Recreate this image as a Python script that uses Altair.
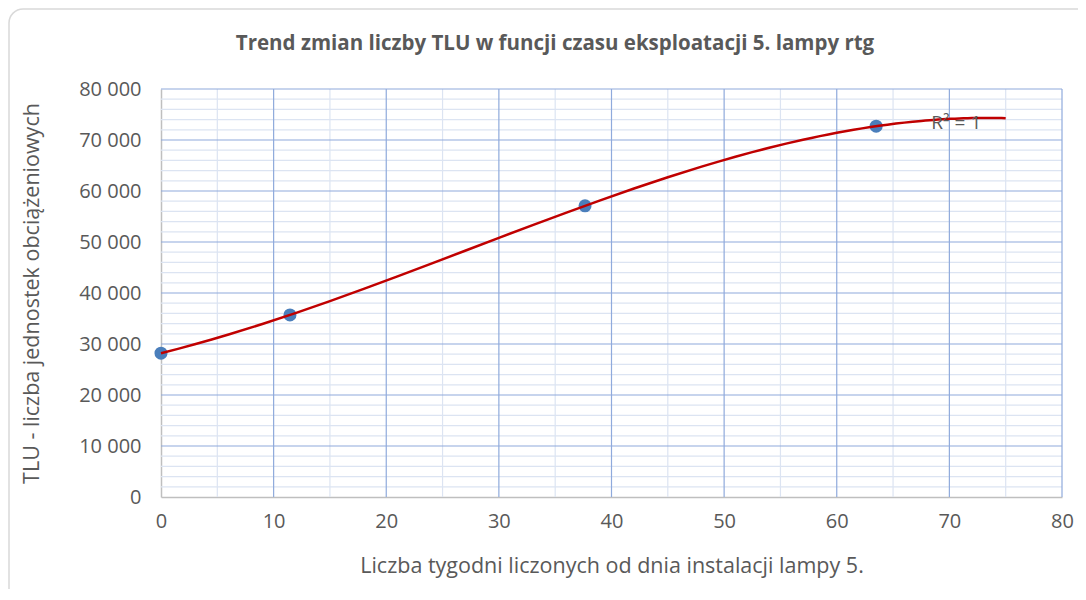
import altair as alt
import pandas as pd

# Data
weeks = [0, 11.45, 37.65, 63.5]
tlu = [28200, 35700, 57100, 72700]

x_major = [0, 10, 20, 30, 40, 50, 60, 70, 80]
x_minor = [5, 15, 25, 35, 45, 55, 65, 75]
y_major = [0, 10000, 20000, 30000, 40000, 50000, 60000, 70000, 80000]
y_minor = [v for v in range(2000, 80000, 2000) if v % 10000 != 0]

r2_label = ["R² = 1"]
r2_x = [68.4]
r2_y = [73300]

title = "Trend zmian liczby TLU w funcji czasu eksploatacji 5. lampy rtg"
x_title = "Liczba tygodni liczonych od dnia instalacji lampy 5."
y_title = "TLU - liczba jednostek obciążeniowych"

FONT = "Open Sans"
TXT = "#595959"

pts = pd.DataFrame({"x": weeks, "y": tlu})
xs = alt.Scale(domain=[0, 80], nice=False)
ys = alt.Scale(domain=[0, 80000], nice=False)

xaxis = alt.Axis(values=x_major, title=x_title, titlePadding=24, labelFlush=False,
                 labelPadding=14)
yaxis = alt.Axis(values=y_major, title=y_title, titlePadding=35, labelFlush=False,
                 labelPadding=20,
                 labelExpr="replace(format(datum.value, ',d'), regexp(',', 'g'), ' ')")


def X(field):
    return alt.X(field, type="quantitative", scale=xs, axis=xaxis)


def Y(field):
    return alt.Y(field, type="quantitative", scale=ys, axis=yaxis)


frame = alt.Chart(pd.DataFrame({"a": [0]})).mark_rect(
    fill="white", fillOpacity=0, stroke="#D9D9D9", strokeWidth=1.5, cornerRadius=14
).encode(x=alt.value(-152), x2=alt.value(960), y=alt.value(-80), y2=alt.value(540))

title_mark = alt.Chart(pd.DataFrame({"t": [title]})).mark_text(
    font=FONT, fontSize=20.5, fontWeight="bold", color=TXT, align="center", baseline="middle"
).encode(x=alt.value(394), y=alt.value(-45), text="t:N")

vminor = alt.Chart(pd.DataFrame({"v": x_minor})).mark_rule(color="#DCE4F2", strokeWidth=1.2).encode(x=X("v"))
hminor = alt.Chart(pd.DataFrame({"v": y_minor})).mark_rule(color="#DCE4F2", strokeWidth=1.2).encode(y=Y("v"))
vmajor = alt.Chart(pd.DataFrame({"v": x_major[1:]})).mark_rule(color="#8FAADC", strokeWidth=1.2).encode(x=X("v"))
hmajor = alt.Chart(pd.DataFrame({"v": y_major[1:]})).mark_rule(color="#8FAADC", strokeWidth=1.2).encode(y=Y("v"))

trend = alt.Chart(pts).transform_regression(
    "x", "y", method="poly", order=3, extent=[0, 75]
).mark_line(color="#C00000", strokeWidth=2.5).encode(x=X("x"), y=Y("y"))

points = alt.Chart(pts).mark_point(filled=True, size=170, color="#4A7EBB", opacity=1).encode(
    x=X("x"), y=Y("y"))

r2 = alt.Chart(pd.DataFrame({"t": r2_label, "x": r2_x, "y": r2_y})).mark_text(
    align="left", baseline="middle", fontSize=19, font=FONT, color=TXT
).encode(x=X("x"), y=Y("y"), text="t:N")

chart = alt.layer(frame, title_mark, vminor, hminor, vmajor, hmajor, points, trend, r2).properties(
    width=901, height=408,
    autosize=alt.AutoSizeParams(type="none"),
    padding={"left": 153, "top": 81, "right": 16, "bottom": 92},
).configure_view(stroke=None).configure_axis(
    grid=False, ticks=False, domainColor="#BFBFBF", domainWidth=1.5,
    labelFontSize=20, labelColor=TXT, labelFont=FONT,
    titleFontSize=21.5, titleColor=TXT, titleFont=FONT, titleFontWeight="normal",
)

chart.save("out.html", embed_options={"renderer": "svg", "actions": False})
